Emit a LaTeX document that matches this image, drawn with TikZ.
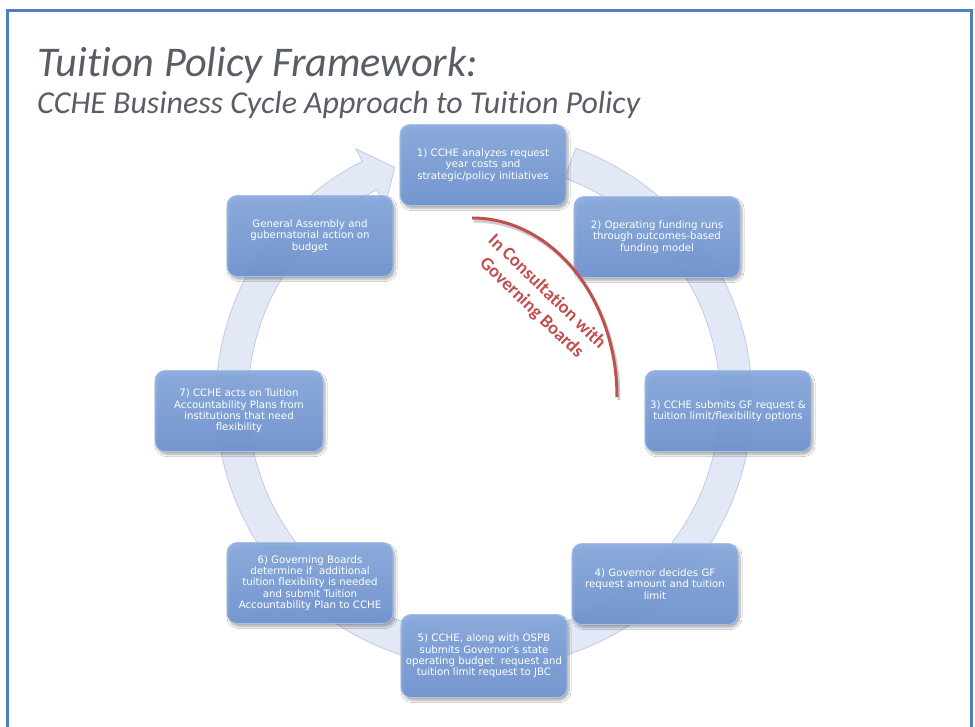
\documentclass[tikz,border=0pt]{standalone}
\usepackage{fontspec}
\setmainfont{DejaVu Sans}
\newfontfamily\titlefont[Ligatures={NoCommon}]{Carlito}
\usetikzlibrary{shadows.blur}

\definecolor{frameblue}{HTML}{4F81BD}
\definecolor{titlegray}{HTML}{595E66}
\definecolor{boxtop}{HTML}{88AAE0}
\definecolor{boxbot}{HTML}{6E94D2}
\definecolor{boxedge}{HTML}{A9C0E6}
\definecolor{ringfill}{HTML}{DDE3F4}
\definecolor{ringedge}{HTML}{C2CBE7}
\definecolor{consred}{HTML}{C0504D}

\tikzset{
  stepbox/.style={rounded corners=10pt, minimum width=166pt, minimum height=81pt,
    draw=boxedge, line width=0.8pt, top color=boxtop, bottom color=boxbot,
    fill opacity=0.9, text opacity=1, text=white, align=center, inner sep=2pt,
    font=\fontsize{10.2}{11.3}\selectfont,
    blur shadow={shadow xshift=2pt, shadow yshift=-3pt, shadow opacity=35, shadow blur steps=6}},
  titletext/.style={anchor=base west, inner sep=0pt, text=titlegray},
}

\begin{document}
\begin{tikzpicture}[x=1pt,y=-1pt]
\useasboundingbox (0,0) rectangle (975,727);
\fill[white] (0,0) rectangle (975,727);

% outer frame (open at the bottom edge of the page)
\draw[frameblue, line width=3pt] (7.5,10.5) rectangle (971.5,760);

% headings
\node[titletext, font=\titlefont\itshape\fontsize{42.3}{42.3}\selectfont] (title) at (37,77) {Tuition Policy Framework:};
\node[titletext, font=\titlefont\itshape\fontsize{31.9}{31.9}\selectfont] (subtitle) at (37,114) {CCHE Business Cycle Approach to Tuition Policy};

% circular cycle arrow behind the steps
\begin{scope}[shift={(484,400)}, y=1pt]
  \fill[ringfill, draw=ringedge, line width=0.8pt, fill opacity=0.8]
    (70:268) arc[start angle=70, end angle=-243, radius=268]
    -- (117:282) -- (111:249) -- (117:218) -- (117:236)
    arc[start angle=-243, end angle=70, radius=236] -- cycle;
\end{scope}

% cycle steps
\node[stepbox] (s1) at (483,165) {1) CCHE analyzes request\\year costs and\\strategic/policy initiatives};
\node[stepbox] (s2) at (657,237) {2) Operating funding runs\\through outcomes-based\\funding model};
\node[stepbox] (s3) at (728,411) {3) CCHE submits GF request \&\\tuition limit/flexibility options};
\node[stepbox] (s4) at (655,584) {4) Governor decides GF\\request amount and tuition\\limit};
\node[stepbox, minimum height=83pt] (s5) at (484,656) {5) CCHE, along with OSPB\\submits Governor's state\\operating budget\ \ request and\\tuition limit request to JBC};
\node[stepbox] (s6) at (310,583) {6) Governing Boards\\determine if\ \ additional\\tuition flexibility is needed\\and submit Tuition\\Accountability Plan to CCHE};
\node[stepbox, minimum width=168pt] (s7) at (239,411) {7) CCHE acts on Tuition\\Accountability Plans from\\institutions that need\\flexibility};
\node[stepbox] (ga) at (310,236) {General Assembly and\\gubernatorial action on\\budget};

% consultation arc
\draw[black, opacity=0.2, line width=3pt] (474,221) arc[start angle=-90, end angle=0, x radius=145, y radius=179];
\draw[consred, line width=3pt] (472,218) arc[start angle=-90, end angle=0, x radius=145, y radius=179];
\node[rotate=-44, align=center, text=consred, inner sep=0pt,
      font=\titlefont\bfseries\fontsize{18.5}{22}\selectfont] (consult) at (539,300)
  {In Consultation with\\Governing Boards};
\end{tikzpicture}
\end{document}
